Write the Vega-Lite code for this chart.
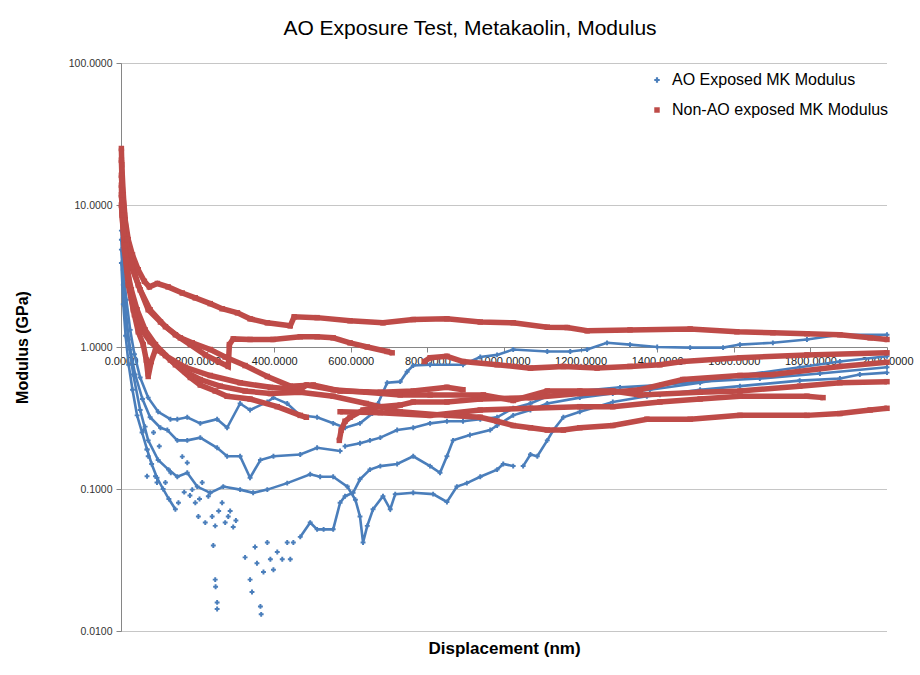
{
"$schema": "https://vega.github.io/schema/vega-lite/v6.json",
"width": 766, "height": 568,
"autosize": {"type": "none"},
"padding": {"left": 121, "top": 63, "right": 33, "bottom": 44},
"background": "white",
"title": {"text": "AO Exposure Test, Metakaolin, Modulus", "font": "Liberation Sans", "fontSize": 21, "fontWeight": "normal", "color": "#000000", "anchor": "middle", "frame": "group", "dx": -34, "offset": 19},
"config": {"view": {"stroke": null}},
"datasets": {
"ao": [
{"c":"B1","x":1,"v":6.6},{"c":"B1","x":6,"v":3.5},{"c":"B1","x":14,"v":2.15},{"c":"B1","x":24,"v":1.32},{"c":"B1","x":35,"v":0.89},{"c":"B1","x":50,"v":0.61},{"c":"B1","x":71,"v":0.44},{"c":"B1","x":97,"v":0.35},{"c":"B1","x":129,"v":0.31},{"c":"B1","x":147,"v":0.31},{"c":"B1","x":173,"v":0.32},{"c":"B1","x":207,"v":0.29},{"c":"B1","x":251,"v":0.31},{"c":"B1","x":277,"v":0.27},{"c":"B1","x":311,"v":0.40},{"c":"B1","x":337,"v":0.36},{"c":"B1","x":382,"v":0.41},{"c":"B1","x":398,"v":0.44},{"c":"B1","x":434,"v":0.40},{"c":"B1","x":468,"v":0.33},{"c":"B1","x":512,"v":0.32},{"c":"B1","x":554,"v":0.29},{"c":"B1","x":585,"v":0.27},{"c":"B1","x":624,"v":0.29},{"c":"B1","x":656,"v":0.34},{"c":"B1","x":671,"v":0.40},{"c":"B1","x":695,"v":0.56},{"c":"B1","x":729,"v":0.57},{"c":"B1","x":747,"v":0.67},{"c":"B1","x":763,"v":0.74},{"c":"B1","x":807,"v":0.75},{"c":"B1","x":893,"v":0.75},{"c":"B1","x":938,"v":0.85},{"c":"B1","x":982,"v":0.88},{"c":"B1","x":1024,"v":0.96},{"c":"B1","x":1113,"v":0.93},{"c":"B1","x":1173,"v":0.93},{"c":"B1","x":1217,"v":0.96},{"c":"B1","x":1269,"v":1.07},{"c":"B1","x":1329,"v":1.04},{"c":"B1","x":1400,"v":1.0},{"c":"B1","x":1486,"v":0.99},{"c":"B1","x":1572,"v":0.99},{"c":"B1","x":1616,"v":1.04},{"c":"B1","x":1702,"v":1.07},{"c":"B1","x":1791,"v":1.13},{"c":"B1","x":1877,"v":1.22},{"c":"B1","x":2000,"v":1.22},
{"c":"B2","x":1,"v":5.7},{"c":"B2","x":6,"v":2.74},{"c":"B2","x":14,"v":1.56},{"c":"B2","x":24,"v":0.96},{"c":"B2","x":37,"v":0.64},{"c":"B2","x":56,"v":0.43},{"c":"B2","x":76,"v":0.32},{"c":"B2","x":103,"v":0.27},{"c":"B2","x":121,"v":0.26},{"c":"B2","x":147,"v":0.22},{"c":"B2","x":173,"v":0.22},{"c":"B2","x":207,"v":0.23},{"c":"B2","x":251,"v":0.195},{"c":"B2","x":277,"v":0.17},{"c":"B2","x":311,"v":0.17},{"c":"B2","x":337,"v":0.12},{"c":"B2","x":364,"v":0.16},{"c":"B2","x":398,"v":0.17},{"c":"B2","x":468,"v":0.175},{"c":"B2","x":512,"v":0.195},{"c":"B2","x":572,"v":0.185},
{"c":"B7","x":585,"v":0.2},{"c":"B7","x":624,"v":0.21},{"c":"B7","x":650,"v":0.22},{"c":"B7","x":677,"v":0.23},{"c":"B7","x":721,"v":0.26},{"c":"B7","x":763,"v":0.27},{"c":"B7","x":807,"v":0.29},{"c":"B7","x":851,"v":0.30},{"c":"B7","x":893,"v":0.30},{"c":"B7","x":938,"v":0.31},{"c":"B7","x":982,"v":0.32},{"c":"B7","x":1024,"v":0.37},{"c":"B7","x":1069,"v":0.40},{"c":"B7","x":1113,"v":0.45},{"c":"B7","x":1198,"v":0.49},{"c":"B7","x":1303,"v":0.52},{"c":"B7","x":1407,"v":0.54},{"c":"B7","x":1512,"v":0.57},{"c":"B7","x":1668,"v":0.60},{"c":"B7","x":1825,"v":0.65},{"c":"B7","x":2000,"v":0.72},
{"c":"B3","x":1,"v":4.85},{"c":"B3","x":9,"v":2.15},{"c":"B3","x":19,"v":1.13},{"c":"B3","x":32,"v":0.64},{"c":"B3","x":50,"v":0.36},{"c":"B3","x":71,"v":0.22},{"c":"B3","x":97,"v":0.16},{"c":"B3","x":124,"v":0.137},{"c":"B3","x":147,"v":0.122},{"c":"B3","x":173,"v":0.13},{"c":"B3","x":199,"v":0.104},{"c":"B3","x":233,"v":0.094},{"c":"B3","x":267,"v":0.104},{"c":"B3","x":311,"v":0.099},{"c":"B3","x":345,"v":0.094},{"c":"B3","x":382,"v":0.099},{"c":"B3","x":434,"v":0.11},{"c":"B3","x":494,"v":0.127},{"c":"B3","x":520,"v":0.122},{"c":"B3","x":554,"v":0.122},{"c":"B3","x":591,"v":0.104},{"c":"B3","x":612,"v":0.084},{"c":"B3","x":624,"v":0.064},{"c":"B3","x":632,"v":0.042},{"c":"B3","x":643,"v":0.055},{"c":"B3","x":658,"v":0.072},{"c":"B3","x":684,"v":0.089},{"c":"B3","x":703,"v":0.072},{"c":"B3","x":716,"v":0.092},{"c":"B3","x":763,"v":0.094},{"c":"B3","x":815,"v":0.092},{"c":"B3","x":851,"v":0.081},{"c":"B3","x":877,"v":0.104},{"c":"B3","x":903,"v":0.11},{"c":"B3","x":938,"v":0.122},{"c":"B3","x":982,"v":0.137},{"c":"B3","x":998,"v":0.15},{"c":"B3","x":1024,"v":0.145},
{"c":"B5","x":1050,"v":0.145},{"c":"B5","x":1069,"v":0.175},{"c":"B5","x":1087,"v":0.17},{"c":"B5","x":1113,"v":0.22},{"c":"B5","x":1129,"v":0.26},{"c":"B5","x":1155,"v":0.32},{"c":"B5","x":1198,"v":0.35},{"c":"B5","x":1243,"v":0.38},{"c":"B5","x":1284,"v":0.41},{"c":"B5","x":1373,"v":0.45},{"c":"B5","x":1407,"v":0.46},{"c":"B5","x":1512,"v":0.50},{"c":"B5","x":1616,"v":0.53},{"c":"B5","x":1772,"v":0.58},{"c":"B5","x":1877,"v":0.60},{"c":"B5","x":1929,"v":0.64},{"c":"B5","x":2000,"v":0.66},
{"c":"B6","x":468,"v":0.046},{"c":"B6","x":494,"v":0.058},{"c":"B6","x":512,"v":0.052},{"c":"B6","x":529,"v":0.052},{"c":"B6","x":554,"v":0.052},{"c":"B6","x":572,"v":0.08},{"c":"B6","x":585,"v":0.089},{"c":"B6","x":606,"v":0.094},{"c":"B6","x":624,"v":0.117},{"c":"B6","x":650,"v":0.137},{"c":"B6","x":677,"v":0.145},{"c":"B6","x":721,"v":0.15},{"c":"B6","x":763,"v":0.17},{"c":"B6","x":807,"v":0.145},{"c":"B6","x":833,"v":0.13},{"c":"B6","x":851,"v":0.17},{"c":"B6","x":867,"v":0.22},{"c":"B6","x":911,"v":0.24},{"c":"B6","x":964,"v":0.26},{"c":"B6","x":982,"v":0.28},{"c":"B6","x":1024,"v":0.33},{"c":"B6","x":1069,"v":0.36},{"c":"B6","x":1113,"v":0.40},{"c":"B6","x":1198,"v":0.44},{"c":"B6","x":1284,"v":0.47},{"c":"B6","x":1381,"v":0.50},{"c":"B6","x":1512,"v":0.56},{"c":"B6","x":1616,"v":0.63},{"c":"B6","x":1772,"v":0.72},{"c":"B6","x":1877,"v":0.79},{"c":"B6","x":2000,"v":0.86},
{"c":"B4","x":1,"v":3.9},{"c":"B4","x":6,"v":2.0},{"c":"B4","x":12,"v":1.2},{"c":"B4","x":20,"v":0.75},{"c":"B4","x":30,"v":0.5},{"c":"B4","x":42,"v":0.33},{"c":"B4","x":55,"v":0.25},{"c":"B4","x":68,"v":0.19},{"c":"B4","x":80,"v":0.15},{"c":"B4","x":94,"v":0.12},{"c":"B4","x":110,"v":0.1},{"c":"B4","x":125,"v":0.085},{"c":"B4","x":142,"v":0.072},
{"c":"Bs","x":63,"v":0.275},{"c":"Bs","x":59,"v":0.26},{"c":"Bs","x":68,"v":0.19},{"c":"Bs","x":71,"v":0.17},{"c":"Bs","x":68,"v":0.123},{"c":"Bs","x":90,"v":0.123},{"c":"Bs","x":94,"v":0.111},{"c":"Bs","x":116,"v":0.111},{"c":"Bs","x":150,"v":0.080},{"c":"Bs","x":186,"v":0.099},{"c":"Bs","x":194,"v":0.080},{"c":"Bs","x":202,"v":0.064},{"c":"Bs","x":220,"v":0.058},{"c":"Bs","x":238,"v":0.064},{"c":"Bs","x":246,"v":0.055},{"c":"Bs","x":228,"v":0.089},{"c":"Bs","x":264,"v":0.08},{"c":"Bs","x":272,"v":0.058},{"c":"Bs","x":280,"v":0.064},{"c":"Bs","x":173,"v":0.153},{"c":"Bs","x":160,"v":0.169},{"c":"Bs","x":212,"v":0.111},{"c":"Bs","x":241,"v":0.040},{"c":"Bs","x":246,"v":0.023},{"c":"Bs","x":247,"v":0.0205},{"c":"Bs","x":251,"v":0.0159},{"c":"Bs","x":251,"v":0.0143},{"c":"Bs","x":293,"v":0.054},{"c":"Bs","x":324,"v":0.033},{"c":"Bs","x":337,"v":0.023},{"c":"Bs","x":342,"v":0.0188},{"c":"Bs","x":350,"v":0.039},{"c":"Bs","x":355,"v":0.030},{"c":"Bs","x":364,"v":0.0149},{"c":"Bs","x":366,"v":0.0131},{"c":"Bs","x":372,"v":0.026},{"c":"Bs","x":382,"v":0.042},{"c":"Bs","x":390,"v":0.032},{"c":"Bs","x":398,"v":0.027},{"c":"Bs","x":408,"v":0.036},{"c":"Bs","x":421,"v":0.032},{"c":"Bs","x":434,"v":0.042},{"c":"Bs","x":442,"v":0.032},{"c":"Bs","x":450,"v":0.042},{"c":"Bs","x":300,"v":0.06},{"c":"Bs","x":285,"v":0.07},{"c":"Bs","x":255,"v":0.07},{"c":"Bs","x":205,"v":0.085},{"c":"Bs","x":180,"v":0.09},{"c":"Bs","x":165,"v":0.095},{"c":"Bs","x":130,"v":0.13},{"c":"Bs","x":100,"v":0.2},{"c":"Bs","x":85,"v":0.25}
],
"non": [
{"c":"R1","x":1,"v":25},{"c":"R1","x":2,"v":19.2},{"c":"R1","x":6,"v":11.8},{"c":"R1","x":11,"v":7.85},{"c":"R1","x":19,"v":5.7},{"c":"R1","x":30,"v":4.45},{"c":"R1","x":45,"v":3.5},{"c":"R1","x":61,"v":2.9},{"c":"R1","x":74,"v":2.65},{"c":"R1","x":95,"v":2.8},{"c":"R1","x":123,"v":2.65},{"c":"R1","x":160,"v":2.4},{"c":"R1","x":194,"v":2.22},{"c":"R1","x":233,"v":2.02},{"c":"R1","x":264,"v":1.86},{"c":"R1","x":304,"v":1.74},{"c":"R1","x":337,"v":1.58},{"c":"R1","x":382,"v":1.48},{"c":"R1","x":442,"v":1.41},{"c":"R1","x":452,"v":1.63},{"c":"R1","x":512,"v":1.61},{"c":"R1","x":598,"v":1.53},{"c":"R1","x":684,"v":1.48},{"c":"R1","x":763,"v":1.56},{"c":"R1","x":851,"v":1.58},{"c":"R1","x":938,"v":1.50},{"c":"R1","x":1024,"v":1.48},{"c":"R1","x":1113,"v":1.38},{"c":"R1","x":1165,"v":1.37},{"c":"R1","x":1217,"v":1.30},{"c":"R1","x":1329,"v":1.32},{"c":"R1","x":1486,"v":1.34},{"c":"R1","x":1608,"v":1.28},{"c":"R1","x":1702,"v":1.26},{"c":"R1","x":1791,"v":1.24},{"c":"R1","x":1877,"v":1.22},{"c":"R1","x":1956,"v":1.16},{"c":"R1","x":2000,"v":1.13},
{"c":"R2","x":1,"v":20.7},{"c":"R2","x":3,"v":13.8},{"c":"R2","x":9,"v":8.5},{"c":"R2","x":16,"v":5.7},{"c":"R2","x":27,"v":4.0},{"c":"R2","x":45,"v":2.74},{"c":"R2","x":71,"v":1.83},{"c":"R2","x":103,"v":1.50},{"c":"R2","x":142,"v":1.22},{"c":"R2","x":181,"v":1.04},{"c":"R2","x":220,"v":0.88},{"c":"R2","x":254,"v":0.79},{"c":"R2","x":280,"v":0.73},{"c":"R2","x":283,"v":1.04},{"c":"R2","x":293,"v":1.14},{"c":"R2","x":337,"v":1.13},{"c":"R2","x":397,"v":1.13},{"c":"R2","x":468,"v":1.18},{"c":"R2","x":512,"v":1.18},{"c":"R2","x":554,"v":1.16},{"c":"R2","x":598,"v":1.07},{"c":"R2","x":643,"v":1.0},{"c":"R2","x":695,"v":0.93},{"c":"R2","x":708,"v":0.91},
{"c":"R3","x":1,"v":16.2},{"c":"R3","x":6,"v":9.2},{"c":"R3","x":14,"v":5.3},{"c":"R3","x":27,"v":3.67},{"c":"R3","x":50,"v":2.53},{"c":"R3","x":76,"v":1.83},{"c":"R3","x":116,"v":1.39},{"c":"R3","x":155,"v":1.16},{"c":"R3","x":186,"v":1.07},{"c":"R3","x":233,"v":0.96},{"c":"R3","x":272,"v":0.85},{"c":"R3","x":324,"v":0.74},{"c":"R3","x":382,"v":0.62},{"c":"R3","x":442,"v":0.53},{"c":"R3","x":502,"v":0.54},{"c":"R3","x":572,"v":0.49},{"c":"R3","x":677,"v":0.48},{"c":"R3","x":763,"v":0.49},{"c":"R3","x":851,"v":0.52},{"c":"R3","x":893,"v":0.50},
{"c":"R4","x":1,"v":11.8},{"c":"R4","x":6,"v":7.2},{"c":"R4","x":14,"v":4.1},{"c":"R4","x":24,"v":2.53},{"c":"R4","x":35,"v":1.69},{"c":"R4","x":45,"v":1.28},{"c":"R4","x":58,"v":1.04},{"c":"R4","x":66,"v":0.81},{"c":"R4","x":71,"v":0.62},{"c":"R4","x":79,"v":0.79},{"c":"R4","x":90,"v":0.96},{"c":"R4","x":108,"v":0.91},{"c":"R4","x":142,"v":0.75},{"c":"R4","x":181,"v":0.61},{"c":"R4","x":207,"v":0.54},{"c":"R4","x":246,"v":0.49},{"c":"R4","x":277,"v":0.45},{"c":"R4","x":337,"v":0.43},{"c":"R4","x":408,"v":0.38},{"c":"R4","x":468,"v":0.33},{"c":"R4","x":484,"v":0.32},
{"c":"R5","x":792,"v":0.79},{"c":"R5","x":807,"v":0.84},{"c":"R5","x":851,"v":0.86},{"c":"R5","x":893,"v":0.79},{"c":"R5","x":982,"v":0.75},{"c":"R5","x":1069,"v":0.71},{"c":"R5","x":1155,"v":0.73},{"c":"R5","x":1243,"v":0.71},{"c":"R5","x":1329,"v":0.73},{"c":"R5","x":1407,"v":0.75},{"c":"R5","x":1467,"v":0.79},{"c":"R5","x":1616,"v":0.84},{"c":"R5","x":1791,"v":0.88},{"c":"R5","x":2000,"v":0.91},
{"c":"R6","x":570,"v":0.22},{"c":"R6","x":575,"v":0.26},{"c":"R6","x":585,"v":0.30},{"c":"R6","x":598,"v":0.32},{"c":"R6","x":632,"v":0.36},{"c":"R6","x":677,"v":0.38},{"c":"R6","x":729,"v":0.39},{"c":"R6","x":763,"v":0.41},{"c":"R6","x":851,"v":0.41},{"c":"R6","x":938,"v":0.43},{"c":"R6","x":1069,"v":0.44},{"c":"R6","x":1198,"v":0.47},{"c":"R6","x":1284,"v":0.48},{"c":"R6","x":1355,"v":0.50},{"c":"R6","x":1467,"v":0.59},{"c":"R6","x":1616,"v":0.63},{"c":"R6","x":1702,"v":0.64},{"c":"R6","x":1877,"v":0.73},{"c":"R6","x":2000,"v":0.78},
{"c":"R7","x":1,"v":10},{"c":"R7","x":9,"v":4.85},{"c":"R7","x":19,"v":2.74},{"c":"R7","x":32,"v":1.83},{"c":"R7","x":50,"v":1.37},{"c":"R7","x":76,"v":1.09},{"c":"R7","x":116,"v":0.87},{"c":"R7","x":168,"v":0.72},{"c":"R7","x":233,"v":0.63},{"c":"R7","x":311,"v":0.56},{"c":"R7","x":390,"v":0.52},{"c":"R7","x":468,"v":0.50},{"c":"R7","x":484,"v":0.54},{"c":"R7","x":554,"v":0.50},{"c":"R7","x":640,"v":0.48},{"c":"R7","x":729,"v":0.46},{"c":"R7","x":807,"v":0.46},{"c":"R7","x":946,"v":0.46},{"c":"R7","x":1024,"v":0.42},{"c":"R7","x":1113,"v":0.49},{"c":"R7","x":1198,"v":0.49},{"c":"R7","x":1284,"v":0.49},{"c":"R7","x":1355,"v":0.46},{"c":"R7","x":1512,"v":0.48},{"c":"R7","x":1616,"v":0.49},{"c":"R7","x":1772,"v":0.53},{"c":"R7","x":1877,"v":0.56},{"c":"R7","x":2000,"v":0.57},
{"c":"R8","x":1,"v":13.8},{"c":"R8","x":3,"v":8.5},{"c":"R8","x":9,"v":5.2},{"c":"R8","x":16,"v":3.5},{"c":"R8","x":27,"v":2.53},{"c":"R8","x":42,"v":1.83},{"c":"R8","x":63,"v":1.32},{"c":"R8","x":90,"v":1.04},{"c":"R8","x":129,"v":0.81},{"c":"R8","x":168,"v":0.67},{"c":"R8","x":207,"v":0.59},{"c":"R8","x":259,"v":0.53},{"c":"R8","x":324,"v":0.49},{"c":"R8","x":390,"v":0.47},{"c":"R8","x":468,"v":0.48},{"c":"R8","x":554,"v":0.45},{"c":"R8","x":640,"v":0.40},{"c":"R8","x":729,"v":0.35},{"c":"R8","x":851,"v":0.33},{"c":"R8","x":938,"v":0.32},{"c":"R8","x":982,"v":0.30},{"c":"R8","x":1024,"v":0.28},{"c":"R8","x":1069,"v":0.27},{"c":"R8","x":1113,"v":0.26},{"c":"R8","x":1155,"v":0.26},{"c":"R8","x":1198,"v":0.27},{"c":"R8","x":1284,"v":0.28},{"c":"R8","x":1373,"v":0.31},{"c":"R8","x":1486,"v":0.31},{"c":"R8","x":1616,"v":0.33},{"c":"R8","x":1791,"v":0.33},{"c":"R8","x":1877,"v":0.34},{"c":"R8","x":1956,"v":0.36},{"c":"R8","x":2000,"v":0.37},
{"c":"R9","x":572,"v":0.35},{"c":"R9","x":677,"v":0.345},{"c":"R9","x":807,"v":0.33},{"c":"R9","x":938,"v":0.36},{"c":"R9","x":1069,"v":0.37},{"c":"R9","x":1198,"v":0.38},{"c":"R9","x":1284,"v":0.38},{"c":"R9","x":1407,"v":0.41},{"c":"R9","x":1512,"v":0.43},{"c":"R9","x":1616,"v":0.45},{"c":"R9","x":1791,"v":0.45},{"c":"R9","x":1833,"v":0.44}
]
},
"encoding": {
"x": {"field": "x", "type": "quantitative", "scale": {"domain": [0, 2000], "nice": false, "zero": false},
 "axis": {"title": "Displacement (nm)", "values": [0,200,400,600,800,1000,1200,1400,1600,1800,2000], "format": ".4f", "offset": -284, "grid": false,
  "domainColor": "#868686", "tickColor": "#868686", "tickSize": 5, "labelFont": "Liberation Sans", "labelFontSize": 11, "labelColor": "#222222", "labelPadding": 3,
  "labelFlush": false, "labelOverlap": false, "labelBound": false,
  "titleFont": "Liberation Sans", "titleFontSize": 17, "titleFontWeight": "bold", "titleColor": "#000000", "titleY": 301, "titleBaseline": "middle"}},
"y": {"field": "v", "type": "quantitative", "scale": {"type": "log", "domain": [0.01, 100], "nice": false},
 "axis": {"title": "Modulus (GPa)", "values": [0.01, 0.1, 1, 10, 100], "format": ".4f", "grid": true, "gridDash": [1, 1], "gridColor": "#8c8c8c",
  "domainColor": "#868686", "tickColor": "#868686", "tickSize": 5, "labelFont": "Liberation Sans", "labelFontSize": 10.5, "labelColor": "#333333", "labelPadding": 4, "labelFlush": false,
  "titleFont": "Liberation Sans", "titleFontSize": 16, "titleFontWeight": "bold", "titleColor": "#000000", "titleX": -99, "titleY": 284, "titleAngle": -90, "titleBaseline": "middle", "titleAlign": "center"}}
},
"layer": [
{"data": {"name": "ao"}, "transform": [{"filter": "datum.c != 'Bs'"}], "mark": {"type": "line", "strokeWidth": 2.6, "color": "#4a7ebb"}, "encoding": {"detail": {"field": "c"}}},
{"data": {"name": "ao"}, "transform": [{"calculate": "'AO Exposed MK Modulus'", "as": "s"}], "mark": {"type": "point", "filled": true, "size": 24, "opacity": 1},
 "encoding": {"color": {"field": "s", "type": "nominal", "scale": {"domain": ["AO Exposed MK Modulus", "Non-AO exposed MK Modulus"], "range": ["#4a7ebb", "#be4b48"]},
  "legend": {"title": null, "orient": "none", "legendX": 528, "legendY": 9, "labelFont": "Liberation Sans", "labelFontSize": 16, "labelColor": "#000000", "labelLimit": 0, "symbolSize": 30, "rowPadding": 14, "labelOffset": 7}},
  "shape": {"field": "s", "type": "nominal", "scale": {"domain": ["AO Exposed MK Modulus", "Non-AO exposed MK Modulus"], "range": ["cross", "square"]}, "legend": {"title": null, "orient": "none", "legendX": 528, "legendY": 9, "labelFont": "Liberation Sans", "labelFontSize": 16, "labelColor": "#000000", "labelLimit": 0, "symbolSize": 30, "rowPadding": 14, "labelOffset": 7}}}},
{"data": {"name": "non"}, "mark": {"type": "line", "strokeWidth": 5.5, "color": "#be4b48"}, "encoding": {"detail": {"field": "c"}}},
{"data": {"name": "non"}, "transform": [{"calculate": "'Non-AO exposed MK Modulus'", "as": "s"}], "mark": {"type": "point", "filled": true, "size": 30, "opacity": 1},
 "encoding": {"color": {"field": "s", "type": "nominal"}, "shape": {"field": "s", "type": "nominal"}}}
]
}
